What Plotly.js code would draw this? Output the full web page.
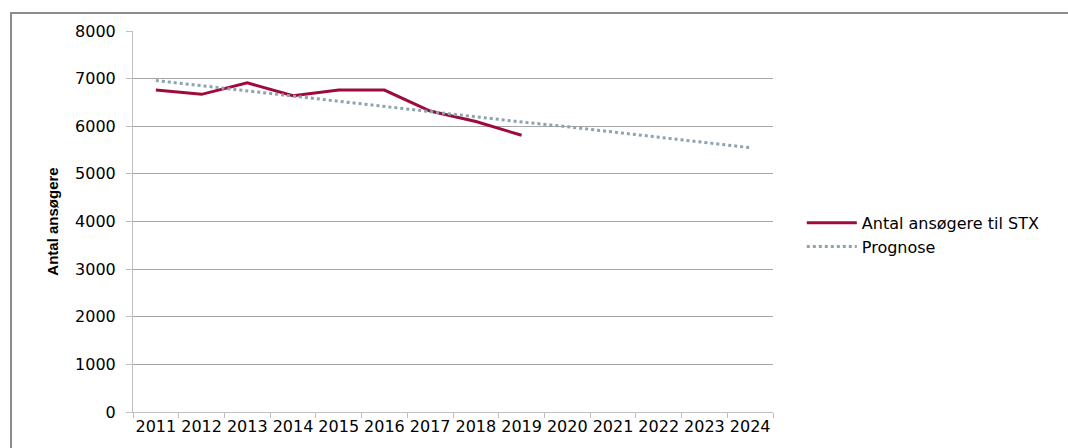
<!DOCTYPE html>
<html>
<head>
<meta charset="utf-8">
<script src="https://cdn.plot.ly/plotly-3.0.1.min.js"></script>
<style>
  html, body { margin: 0; padding: 0; background: #fff; }
  #frame { position: absolute; left: 10px; top: 12px; width: 1070px; height: 450px;
           border-top: 2px solid #8c8c8c; border-left: 2px solid #8c8c8c; pointer-events: none; }
  #chart { position: absolute; left: 0; top: 0; width: 1068px; height: 448px; }
</style>
</head>
<body>
<div id="chart"></div>
<div id="frame"></div>
<script>
const years = ['2011','2012','2013','2014','2015','2016','2017','2018','2019','2020','2021','2022','2023','2024'];
const applicantYears = ['2011','2012','2013','2014','2015','2016','2017','2018','2019'];
const applicants = [6760, 6670, 6910, 6640, 6760, 6760, 6320, 6100, 5810];
const forecast = [6960, 6850, 6740, 6630, 6530, 6420, 6310, 6200, 6090, 5990, 5880, 5770, 5660, 5550];
const yTicks = [0, 1000, 2000, 3000, 4000, 5000, 6000, 7000, 8000];

const traces = [
  { x: applicantYears, y: applicants, type: 'scatter', mode: 'lines',
    name: 'Antal ansøgere til STX', line: { color: '#9e0a3c', width: 3 } },
  { x: years, y: forecast, type: 'scatter', mode: 'lines',
    name: 'Prognose', line: { color: '#8ea3b0', width: 3, dash: 'dot' } }
];

const layout = {
  width: 1068, height: 448,
  margin: { l: 133, r: 295, t: 31, b: 36 },
  paper_bgcolor: '#ffffff', plot_bgcolor: '#ffffff',
  showlegend: true,
  legend: { x: 1.045, xanchor: 'left', y: 0.465, yanchor: 'middle',
            font: { family: 'DejaVu Sans, sans-serif', size: 16, color: '#000' },
            tracegroupgap: 4, itemwidth: 50 },
  xaxis: {
    type: 'category', categoryorder: 'array', categoryarray: years,
    range: [-0.5, 13.5], tickson: 'boundaries',
    showgrid: false, showline: true, linecolor: '#bfbfbf', linewidth: 1,
    ticks: 'outside', ticklen: 5, tickcolor: '#bfbfbf',
    tickfont: { family: 'DejaVu Sans, sans-serif', size: 16, color: '#000' },
    tickangle: 0, zeroline: false, fixedrange: true
  },
  yaxis: {
    range: [0, 8000], tickvals: yTicks, ticktext: yTicks.map(String),
    showgrid: true, gridcolor: '#a6a6a6', gridwidth: 1,
    showline: true, linecolor: '#bfbfbf', linewidth: 1,
    ticks: 'outside', ticklen: 6, tickcolor: '#bfbfbf',
    ticklabelstandoff: 7,
    tickfont: { family: 'DejaVu Sans, sans-serif', size: 16, color: '#000' },
    zeroline: false, fixedrange: true,
    title: { text: '<b>Antal ansøgere</b>', standoff: 12,
             font: { family: 'Liberation Sans Narrow, Liberation Sans, sans-serif', size: 15, color: '#000' } }
  }
};

Plotly.newPlot('chart', traces, layout, { displayModeBar: false, staticPlot: true });
</script>
</body>
</html>
